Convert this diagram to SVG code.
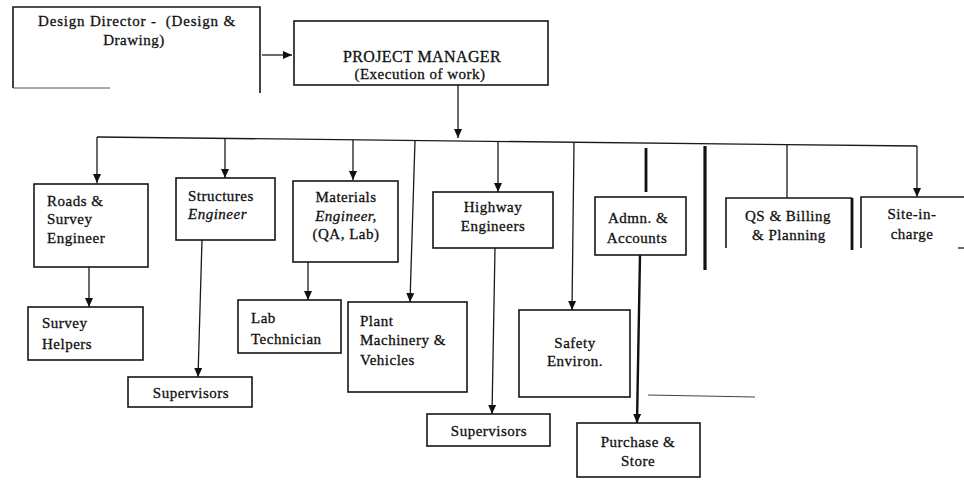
<svg xmlns="http://www.w3.org/2000/svg" width="964" height="483" viewBox="0 0 964 483">
<defs>
<marker id="ah" markerUnits="userSpaceOnUse" markerWidth="10" markerHeight="10" viewBox="0 0 10 10" refX="9" refY="5" orient="auto">
<path d="M0,1 L9,5 L0,9 Z" fill="#111"/>
</marker>
</defs>
<style>
.box{fill:#fff;stroke:#161616;stroke-width:1.6}
.open{fill:none;stroke:#161616;stroke-width:1.6}
.c{fill:none;stroke:#1a1a1a;stroke-width:1.3}
.thick{fill:none;stroke:#111;stroke-width:2.8}
.faint{fill:none;stroke:#444;stroke-width:1.2}
.t{font-family:"Liberation Serif","Times New Roman",serif;font-size:15px;fill:#111;stroke:#111;stroke-width:0.3;letter-spacing:0.5px}
.m{text-anchor:middle}
.i{font-style:italic}
.pm{font-size:16px;letter-spacing:0.4px}
</style>
<rect width="964" height="483" fill="#fff"/>
<g id="connectors">
<path class="c" d="M262,55 H292" marker-end="url(#ah)"/>
<path class="c" d="M458,85 V138" marker-end="url(#ah)"/>
<path class="c" d="M97,137 L917,146"/>
<path class="c" d="M97,137 V183" marker-end="url(#ah)"/>
<path class="c" d="M225,138.4 V178" marker-end="url(#ah)"/>
<path class="c" d="M353,139.8 V180" marker-end="url(#ah)"/>
<path class="c" d="M415,140.5 L410,302" marker-end="url(#ah)"/>
<path class="c" d="M498,141.4 V192" marker-end="url(#ah)"/>
<path class="c" d="M574,142.2 L572,310" marker-end="url(#ah)"/>
<path class="thick" d="M646,148 V192"/>
<path class="thick" d="M705,146 V270" style="stroke-width:3.2"/>
<path class="c" d="M787,144.6 V198"/>
<path class="c" d="M917,146 V197" marker-end="url(#ah)"/>
<path class="c" d="M89,267 V307" marker-end="url(#ah)"/>
<path class="c" d="M202,240 L198,377" marker-end="url(#ah)"/>
<path class="c" d="M308,262 V300" marker-end="url(#ah)"/>
<path class="c" d="M495,248 L492,414" marker-end="url(#ah)"/>
<path class="thick" d="M640,255 L637,423" style="stroke-width:2.4" marker-end="url(#ah)"/>
<path class="faint" d="M648,395 L755,397"/>
</g>
<g id="design-director">
<path class="open" d="M13,88 V7 H260 V93"/>
<path class="faint" d="M13,88 H110" style="stroke-width:0.9"/>
<text class="t m" x="137" y="26" style="letter-spacing:0.8px">Design Director -&#160; (Design &amp;</text>
<text class="t m" x="134" y="45">Drawing)</text>
</g>
<g id="project-manager">
<rect class="box" x="294" y="21" width="254" height="64"/>
<text class="t m pm" x="422" y="62">PROJECT MANAGER</text>
<text class="t m" x="420" y="79">(Execution of work)</text>
</g>
<g id="roads-survey-engineer">
<rect class="box" x="34" y="184" width="114" height="83"/>
<text class="t" x="47" y="206">Roads &amp;</text>
<text class="t" x="47" y="224">Survey</text>
<text class="t" x="47" y="243">Engineer</text>
</g>
<g id="structures-engineer">
<rect class="box" x="176" y="178" width="99" height="62"/>
<text class="t" x="188" y="201">Structures</text>
<text class="t i" x="188" y="219">Engineer</text>
</g>
<g id="materials-engineer">
<rect class="box" x="293" y="181" width="105" height="81"/>
<text class="t m" x="346" y="202">Materials</text>
<text class="t m i" x="346" y="221">Engineer,</text>
<text class="t m" x="346" y="239">(QA, Lab)</text>
</g>
<g id="highway-engineers">
<rect class="box" x="433" y="192" width="120" height="56"/>
<text class="t m" x="493" y="212">Highway</text>
<text class="t m" x="493" y="231">Engineers</text>
</g>
<g id="admn-accounts">
<rect class="box" x="595" y="197" width="91" height="58"/>
<text class="t m" x="638" y="223">Admn. &amp;</text>
<text class="t m" x="637" y="243">Accounts</text>
</g>
<g id="qs-billing-planning">
<path class="open" d="M726,248 V198 H852"/>
<path class="thick" d="M852,198 V250"/>
<text class="t m" x="788" y="221">QS &amp; Billing</text>
<text class="t m" x="789" y="240">&amp; Planning</text>
</g>
<g id="site-in-charge">
<path class="open" d="M861,248 V197 H964"/>
<path class="c" d="M958,248 H964"/>
<text class="t m" x="912" y="219">Site-in-</text>
<text class="t m" x="912" y="239">charge</text>
</g>
<g id="survey-helpers">
<rect class="box" x="28" y="307" width="115" height="53"/>
<text class="t" x="42" y="328">Survey</text>
<text class="t" x="42" y="349">Helpers</text>
</g>
<g id="supervisors-structures">
<rect class="box" x="128" y="377" width="124" height="30"/>
<text class="t m" x="191" y="398">Supervisors</text>
</g>
<g id="lab-technician">
<rect class="box" x="238" y="300" width="103" height="53"/>
<text class="t" x="251" y="323">Lab</text>
<text class="t" x="251" y="344">Technician</text>
</g>
<g id="plant-machinery">
<rect class="box" x="348" y="302" width="119" height="90"/>
<text class="t" x="360" y="326">Plant</text>
<text class="t" x="360" y="345">Machinery &amp;</text>
<text class="t" x="360" y="365">Vehicles</text>
</g>
<g id="safety-environ">
<rect class="box" x="519" y="310" width="111" height="87"/>
<text class="t m" x="575" y="348">Safety</text>
<text class="t m" x="575" y="366">Environ.</text>
</g>
<g id="supervisors-highway">
<rect class="box" x="427" y="414" width="123" height="32"/>
<text class="t m" x="489" y="436">Supervisors</text>
</g>
<g id="purchase-store">
<rect class="box" x="577" y="423" width="123" height="54"/>
<text class="t m" x="638" y="447">Purchase &amp;</text>
<text class="t m" x="638" y="466">Store</text>
</g>
</svg>
